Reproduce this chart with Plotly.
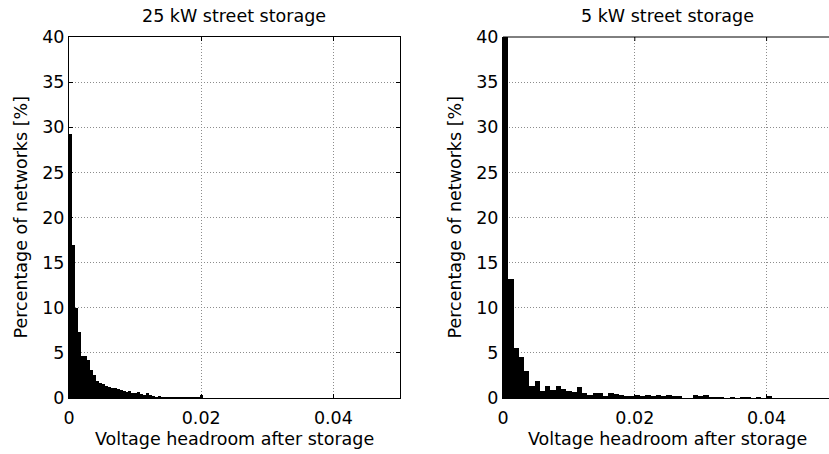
import numpy as np
import plotly.graph_objects as go

# ---- data ----
titles = ["25 kW street storage", "5 kW street storage"]
x_label = "Voltage headroom after storage"
y_label = "Percentage of networks [%]"

bin_width_25 = 0.00045
pct_25 = [29.3, 17.0, 10.0, 7.3, 4.7, 4.6, 4.2, 3.1, 2.5, 1.9,
          1.7, 1.5, 1.3, 1.2, 1.1, 1.1, 1.0, 0.9, 0.8, 0.7,
          0.8, 0.6, 0.5, 0.7, 0.4, 0.35, 0.5, 0.3, 0.25, 0.15,
          0.2, 0.15, 0.15, 0.1, 0.15, 0.15, 0.1, 0.15, 0.15, 0.1,
          0.15, 0.1, 0.15, 0.1, 0.35, 0.05]

bin_width_5 = 0.0008
pct_5 = [55.0, 13.2, 5.5, 4.5, 3.0, 1.3, 1.9, 0.75, 1.35, 0.9,
         1.35, 1.0, 0.8, 0.65, 1.2, 0.6, 0.35, 0.5, 0.6, 0.2,
         0.5, 0.45, 0.3, 0.2, 0.2, 0.3, 0.2, 0.3, 0.2, 0.3,
         0.25, 0.3, 0.2, 0.2, 0.0, 0.0, 0.3, 0.25, 0.3, 0.1,
         0.1, 0.1, 0.0, 0.1, 0.0, 0.1, 0.1, 0.0, 0.1, 0.0, 0.2]

x_ticks = [0, 0.02, 0.04]
x_tick_text = ["0", "0.02", "0.04"]
y_ticks = [0, 5, 10, 15, 20, 25, 30, 35, 40]

# ---- figure ----
W, H = 829, 454
FONT = "'DejaVu Sans', Arial, sans-serif"
FS = 17.5
PLOT_TOP, PLOT_BOTTOM = 37, 398.5
PH = PLOT_BOTTOM - PLOT_TOP
TICK_PX = 4


def centers(width, n):
    return (np.arange(n) + 0.5) * width


def py(p):
    """pixel row -> paper y"""
    return (PLOT_BOTTOM - p) / PH


fig = go.Figure()
fig.add_trace(go.Bar(x=centers(bin_width_25, len(pct_25)), y=pct_25,
                     width=bin_width_25, marker=dict(color="black", line=dict(width=0)),
                     xaxis="x", yaxis="y", showlegend=False, hoverinfo="skip"))
fig.add_trace(go.Bar(x=centers(bin_width_5, len(pct_5)), y=pct_5,
                     width=bin_width_5, marker=dict(color="black", line=dict(width=0)),
                     xaxis="x2", yaxis="y2", showlegend=False, hoverinfo="skip"))

left_px = (69, 399.5)
right_px = (503, 832.5)
left_dom = [left_px[0] / W, left_px[1] / W]
right_dom = [right_px[0] / W, 1.0]
right_end = 0.05 * (W - right_px[0]) / (right_px[1] - right_px[0])

axis_common = dict(
    showline=True, linecolor="black", linewidth=1,
    ticks="inside", ticklen=TICK_PX, tickcolor="black",
    showgrid=True, gridcolor="#8c8c8c", griddash="1px,2px", gridwidth=1,
    zeroline=False, automargin=False,
    tickfont=dict(family=FONT, size=FS, color="black"),
)

shapes = [dict(type="line", xref="x2 domain", yref="y2 domain", x0=0, x1=1, y0=1, y1=1,
               line=dict(color="black", width=1))]
for t in x_ticks[1:]:
    shapes.append(dict(type="line", xref="x2", yref="y2 domain", x0=t, x1=t,
                       y0=1, y1=1 - TICK_PX / PH, line=dict(color="black", width=1)))

fig.update_layout(
    width=W, height=H,
    margin=dict(l=0, r=0, t=PLOT_TOP, b=H - PLOT_BOTTOM),
    paper_bgcolor="white", plot_bgcolor="white",
    bargap=0,
    font=dict(family=FONT, size=FS, color="black"),
    xaxis=dict(domain=left_dom, range=[0, 0.05], tickvals=x_ticks, ticktext=x_tick_text,
               mirror="ticks", anchor="y", ticklabelstandoff=4, **axis_common),
    yaxis=dict(domain=[0, 1], range=[0, 40], tickvals=y_ticks, mirror="ticks", anchor="x",
               **axis_common),
    xaxis2=dict(domain=right_dom, range=[0, right_end], tickvals=x_ticks, ticktext=x_tick_text,
                mirror=False, anchor="y2", ticklabelstandoff=4, **axis_common),
    yaxis2=dict(domain=[0, 1], range=[0, 40], tickvals=y_ticks, mirror=False, anchor="x2",
                **axis_common),
    shapes=shapes,
)

annos = []
for i, (px0, px1) in enumerate([left_px, right_px]):
    cx = (px0 + px1) / 2 / W
    annos.append(dict(text=titles[i], xref="paper", yref="paper", x=cx, y=py(15.5),
                      xanchor="center", yanchor="middle", showarrow=False,
                      font=dict(family=FONT, size=FS, color="black")))
    annos.append(dict(text=x_label, xref="paper", yref="paper", x=cx, y=py(439.5),
                      xanchor="center", yanchor="middle", showarrow=False,
                      font=dict(family=FONT, size=FS, color="black")))
    annos.append(dict(text=y_label, xref="paper", yref="paper", x=(px0 - 49) / W,
                      y=py((PLOT_TOP + PLOT_BOTTOM) / 2), xanchor="center", yanchor="middle",
                      textangle=-90, showarrow=False,
                      font=dict(family=FONT, size=FS, color="black")))
fig.update_layout(annotations=annos)

fig.write_html("out.html", config={"displayModeBar": False, "staticPlot": True},
               post_script="document.body.style.margin='0';")
